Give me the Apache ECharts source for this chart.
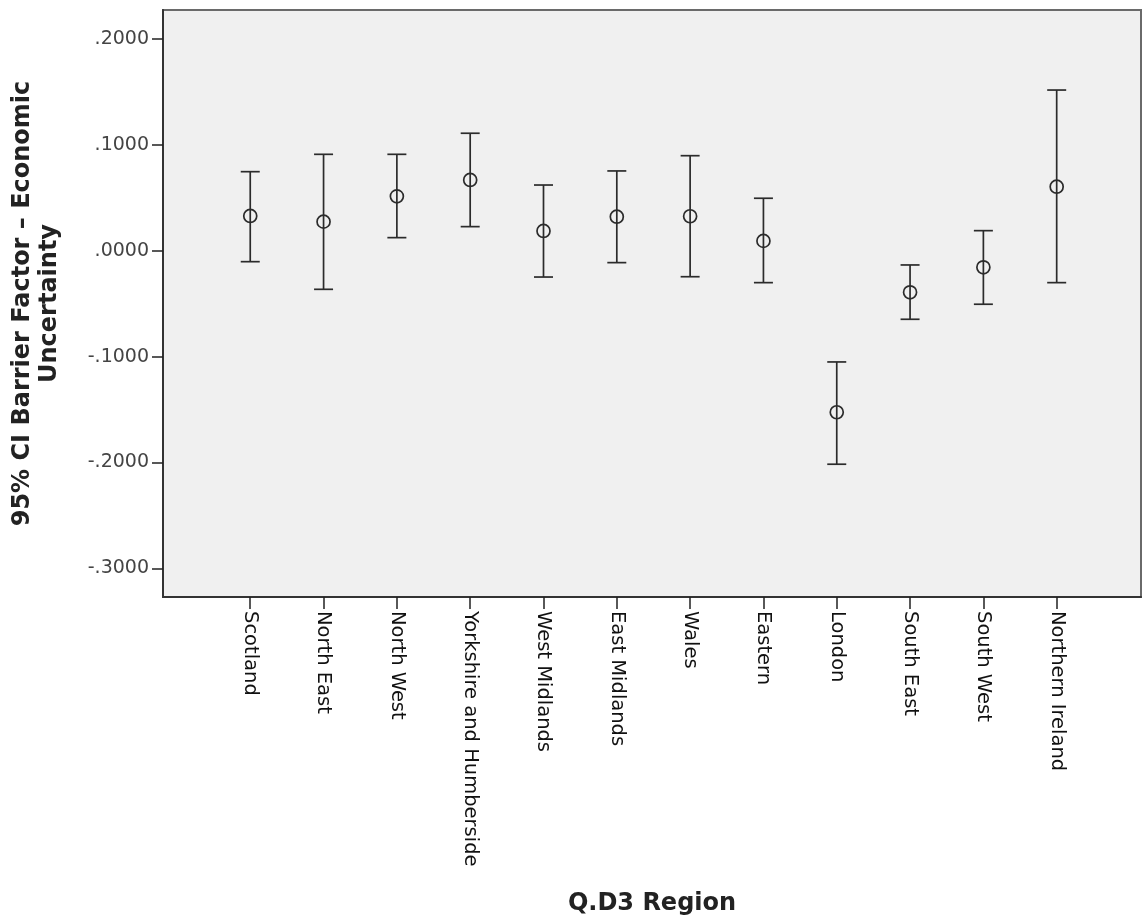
<!DOCTYPE html>
<html>
<head>
<meta charset="utf-8">
<script src="https://cdn.jsdelivr.net/npm/echarts@6/dist/echarts.min.js"></script>
<style>
html,body{margin:0;padding:0;background:#fff;}
#chart{width:1142px;height:923px;}
</style>
</head>
<body>
<div id="chart"></div>
<script>
// Categories (Q.D3 Region)
var regions = ["Scotland","North East","North West","Yorkshire and Humberside","West Midlands","East Midlands","Wales","Eastern","London","South East","South West","Northern Ireland"];
// Mean values
var means = [0.0329, 0.0275, 0.0514, 0.0669, 0.0187, 0.0322, 0.0326, 0.0093, -0.1525, -0.0392, -0.0156, 0.0605];
// Lower 95% CI bounds
var lower = [-0.0103, -0.0364, 0.0124, 0.0228, -0.0248, -0.0112, -0.0245, -0.0301, -0.2016, -0.0647, -0.0505, -0.0301];
// Upper 95% CI bounds
var upper = [0.0747, 0.0911, 0.0911, 0.1110, 0.0621, 0.0754, 0.0898, 0.0496, -0.1050, -0.0134, 0.0190, 0.1518];
// Y tick values
var yTicks = [-0.3, -0.2, -0.1, 0, 0.1, 0.2];

var xIdx = regions.map(function(_, i){ return i; });
var data = regions.map(function(_, i){ return [i, means[i], lower[i], upper[i]]; });

function fmtY(v){
  var s = Math.abs(v).toFixed(4).replace(/^0/, '');
  return (v < -1e-9 ? '-' : '') + s;
}

var chart = echarts.init(document.getElementById('chart'));
var option = {
  animation: false,
  grid: {
    left: 163, top: 10, right: 1, bottom: 326,
    show: true, backgroundColor: '#f0f0f0', borderColor: '#6a6a6a', borderWidth: 2
  },
  xAxis: {
    type: 'value', min: -1.19, max: 12.15,
    name: 'Q.D3 Region', nameLocation: 'middle', nameGap: 295,
    nameTextStyle: { fontFamily: 'DejaVu Sans', fontWeight: 'bold', fontSize: 24, color: '#222' },
    axisLine: { show: true, onZero: false, lineStyle: { color: '#333', width: 2 } },
    axisTick: { show: true, length: 12, customValues: xIdx, lineStyle: { color: '#222', width: 1.5 } },
    axisLabel: {
      customValues: xIdx, rotate: -90, margin: 14,
      fontFamily: 'DejaVu Sans', fontSize: 19.5, color: '#111',
      formatter: function(v){ return regions[Math.round(v)] || ''; }
    },
    splitLine: { show: false }
  },
  yAxis: {
    type: 'value', min: -0.327, max: 0.2274,
    name: '95% CI Barrier Factor \u2013 Economic\nUncertainty', nameLocation: 'middle', nameGap: 100, nameRotate: 90,
    nameTextStyle: { fontFamily: 'DejaVu Sans', fontWeight: 'bold', fontSize: 24, color: '#222', lineHeight: 27, align: 'center' },
    axisLine: { show: true, onZero: false, lineStyle: { color: '#333', width: 2 } },
    axisTick: { show: true, length: 11, customValues: yTicks, lineStyle: { color: '#222', width: 1.5 } },
    axisLabel: {
      customValues: yTicks, margin: 14,
      fontFamily: 'DejaVu Sans', fontSize: 19, color: '#444',
      formatter: fmtY
    },
    splitLine: { show: false }
  },
  series: [{
    type: 'custom',
    data: data,
    clip: false,
    renderItem: function(params, api){
      var x = api.value(0);
      var pm = api.coord([x, api.value(1)]);
      var pl = api.coord([x, api.value(2)]);
      var ph = api.coord([x, api.value(3)]);
      var hw = 9.5;
      var st = { stroke: '#2b2b2b', lineWidth: 1.7, fill: null };
      return {
        type: 'group',
        children: [
          { type: 'line', shape: { x1: pm[0], y1: ph[1], x2: pm[0], y2: pl[1] }, style: st },
          { type: 'line', shape: { x1: pm[0]-hw, y1: ph[1], x2: pm[0]+hw, y2: ph[1] }, style: st },
          { type: 'line', shape: { x1: pm[0]-hw, y1: pl[1], x2: pm[0]+hw, y2: pl[1] }, style: st },
          { type: 'circle', shape: { cx: pm[0], cy: pm[1], r: 6.5 }, style: { stroke: '#2b2b2b', lineWidth: 1.7, fill: 'rgba(0,0,0,0)' } }
        ]
      };
    }
  }]
};
chart.setOption(option);
</script>
</body>
</html>
